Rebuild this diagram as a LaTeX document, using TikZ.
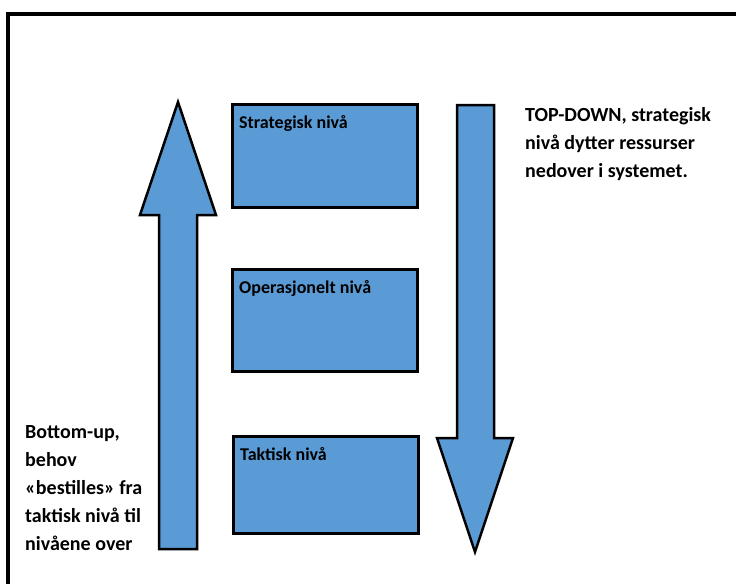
\documentclass[tikz,border=0pt]{standalone}
\usepackage{fontspec}
\setmainfont{Carlito}
\usepackage{tikz}
\definecolor{levelblue}{RGB}{91, 155, 213}
\usetikzlibrary{positioning, calc}

\begin{document}
\begin{tikzpicture}[
    x=1pt, y=-1pt,
    level/.style={rectangle, draw=black, line width=3pt, fill=levelblue, minimum width=185pt, anchor=north west, inner sep=0pt},
    leveltext/.style={anchor=base west, inner sep=0pt, font=\fontsize{18}{20}\selectfont\bfseries},
    blockarrow/.style={draw=black, line width=2.5pt, fill=levelblue, line join=miter},
    sidetext/.style={anchor=base west, inner sep=0pt, align=left, font=\fontsize{20}{28}\selectfont\bfseries}
]
    \useasboundingbox (0,0) rectangle (736,584);

    % frame
    \draw[line width=4pt] (8,584) -- (8,14) -- (736,14);

    % levels
    \node[level, minimum height=103pt] (strat) at (231,103) {};
    \node[level, minimum height=102pt] (oper) at (231,268) {};
    \node[level, minimum height=97pt] (takt) at (232,435) {};

    \node[leveltext] (strattext) at ([shift={(8,25)}]strat.north west) {Strategisk nivå};
    \node[leveltext] (opertext) at ([shift={(8,25)}]oper.north west) {Operasjonelt nivå};
    \node[leveltext] (takttext) at ([shift={(8,25)}]takt.north west) {Taktisk nivå};

    % bottom-up and top-down arrows
    \draw[blockarrow] (159,549) -- (159,215) -- (140,215) -- (178,102) -- (216,215) -- (197,215) -- (197,549) -- cycle;
    \draw[blockarrow] (457,105) -- (494,105) -- (494,438) -- (513,438) -- (475,552) -- (437,438) -- (457,438) -- cycle;

    % base anchor sits on the last line
    \node[sidetext] (topdown) at (525,177) {TOP-DOWN, strategisk\\nivå dytter ressurser\\nedover i systemet.};
    \node[sidetext] (bottomup) at (25,550) {Bottom-up,\\behov\\«bestilles» fra\\taktisk nivå til\\nivåene over};
\end{tikzpicture}
\end{document}
